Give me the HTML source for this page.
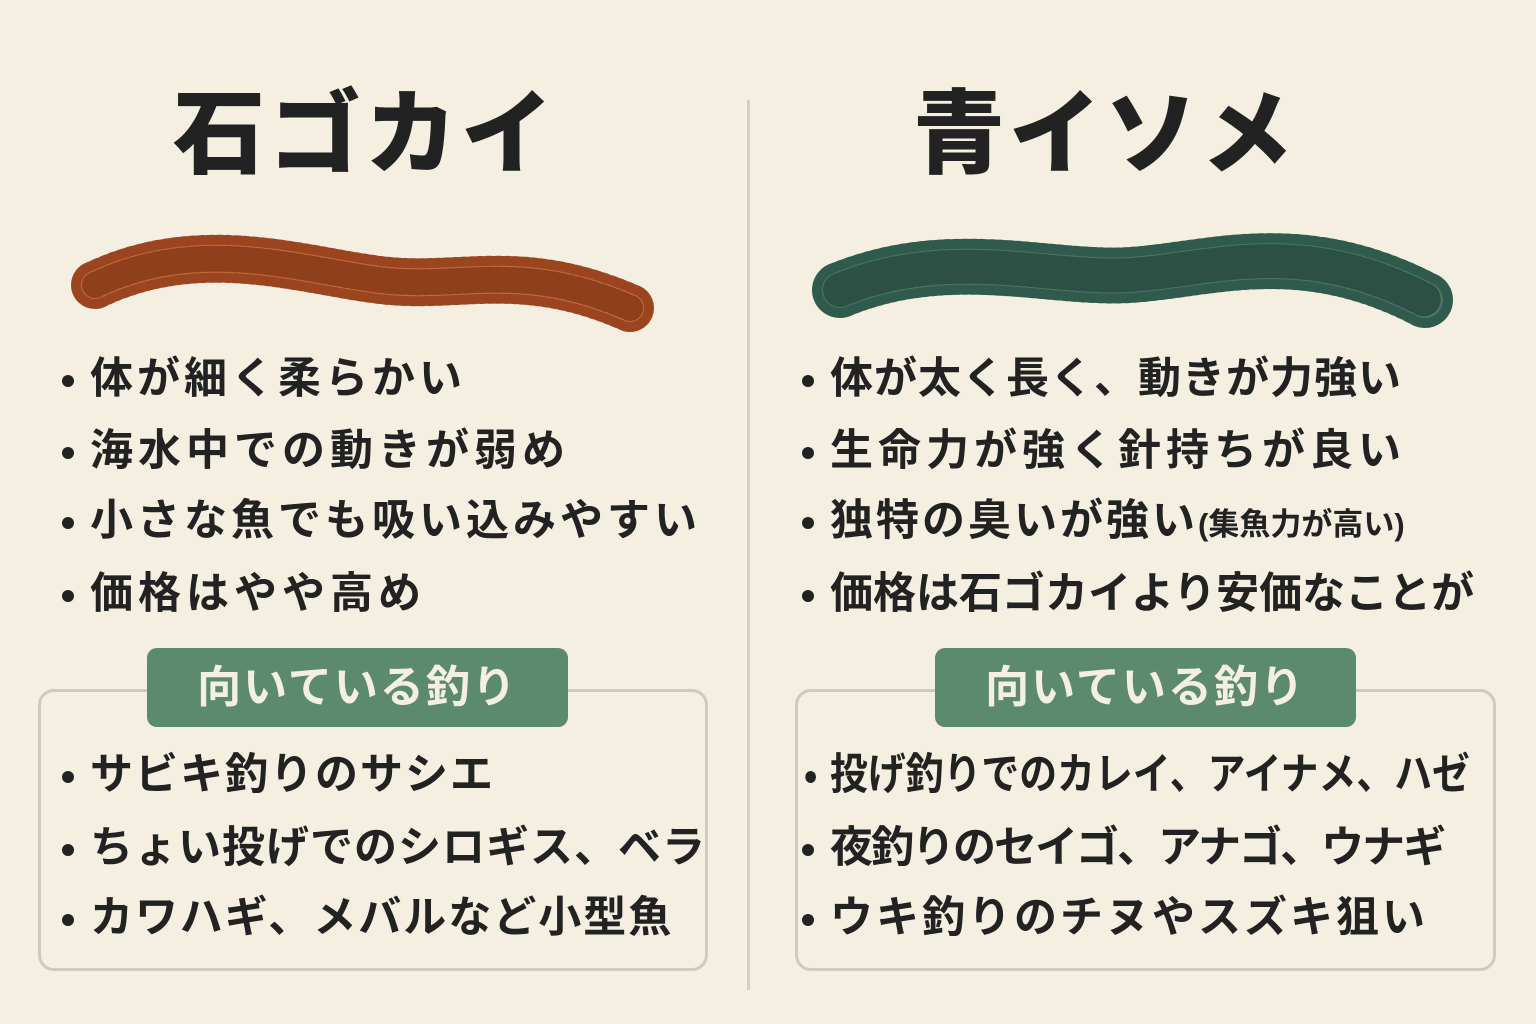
<!DOCTYPE html>
<html><head><meta charset="utf-8"><style>
*{margin:0;padding:0;box-sizing:border-box}
body{width:1536px;height:1024px;background:#f4efe0;position:relative;overflow:hidden;font-family:"Liberation Sans","Noto Sans CJK JP",sans-serif;color:#222}
.t{position:absolute;font-weight:900;font-size:92px;letter-spacing:4px;white-space:nowrap;transform:translateX(-50%)}
.b{position:absolute;font-size:43px;font-weight:700;white-space:nowrap;line-height:1;letter-spacing:1px;transform-origin:0 50%}
.b:before{content:"";position:absolute;left:-28px;top:17px;width:12px;height:12px;border-radius:50%;background:#222}
.box{position:absolute;border:3px solid #cfcac0;border-radius:16px}
.pill{position:absolute;background:#5b8a6e;color:#f4efe0;border-radius:10px;font-size:44px;font-weight:700;text-align:center;line-height:79px;letter-spacing:2px}
.sm{font-size:31px;letter-spacing:0}
</style></head><body>
<div style="position:absolute;left:747px;top:100px;width:3px;height:890px;background:#d4cfc3"></div>
<div class="t" style="left:365px;top:60px">石ゴカイ</div>
<div class="t" style="left:1105px;top:60px">青イソメ</div>
<svg width="1536" height="1024" style="position:absolute;left:0;top:0">
<g fill="none" stroke-linecap="round">
<path d="M95 285 C200 235,300 270,380 280 S520 260,630 308" stroke="#9a4520" stroke-width="48" stroke-dasharray="1.5 7"/>
<path d="M95 285 C200 235,300 270,380 280 S520 260,630 308" stroke="#c06a3e" stroke-width="28"/>
<path d="M95 285 C200 235,300 270,380 280 S520 260,630 308" stroke="#8f3f1c" stroke-width="26" stroke-dasharray="2 6"/>
<path d="M840 290 C950 245,1050 280,1130 275 S1300 235,1425 300" stroke="#2f5a4c" stroke-width="56" stroke-dasharray="1.5 7"/>
<path d="M840 290 C950 245,1050 280,1130 275 S1300 235,1425 300" stroke="#4a7566" stroke-width="36"/>
<path d="M840 290 C950 245,1050 280,1130 275 S1300 235,1425 300" stroke="#2c5044" stroke-width="34" stroke-dasharray="2 6"/>
</g></svg>
<div class="b" style="left:90px;top:358px;letter-spacing:4px">体が細く柔らかい</div>
<div class="b" style="left:90px;top:430px;letter-spacing:5px">海水中での動きが弱め</div>
<div class="b" style="left:90px;top:500px;letter-spacing:4px">小さな魚でも吸い込みやすい</div>
<div class="b" style="left:90px;top:573px;letter-spacing:5px">価格はやや高め</div>
<div class="b" style="left:830px;top:358px;letter-spacing:1px">体が太く長く、動きが力強い</div>
<div class="b" style="left:830px;top:430px;letter-spacing:5px">生命力が強く針持ちが良い</div>
<div class="b" style="left:830px;top:500px;letter-spacing:3px">独特の臭いが強い<span class="sm">(集魚力が高い)</span></div>
<div class="b" style="left:830px;top:573px;letter-spacing:0">価格は石ゴカイより安価なことが</div>
<div class="box" style="left:38px;top:689px;width:670px;height:282px"></div>
<div class="box" style="left:795px;top:689px;width:701px;height:282px"></div>
<div class="pill" style="left:147px;top:648px;width:421px;height:79px">向いている釣り</div>
<div class="pill" style="left:935px;top:648px;width:421px;height:79px">向いている釣り</div>
<div class="b" style="left:90px;top:754px;letter-spacing:2px">サビキ釣りのサシエ</div>
<div class="b" style="left:90px;top:827px;letter-spacing:1px">ちょい投げでのシロギス、ベラ</div>
<div class="b" style="left:90px;top:897px;letter-spacing:2px">カワハギ、メバルなど小型魚</div>
<div class="b" style="left:830px;top:754px;letter-spacing:0;transform:scaleX(0.88)">投げ釣りでのカレイ、アイナメ、ハゼ</div>
<div class="b" style="left:830px;top:827px;letter-spacing:-2px">夜釣りのセイゴ、アナゴ、ウナギ</div>
<div class="b" style="left:830px;top:897px;letter-spacing:3px">ウキ釣りのチヌやスズキ狙い</div>
</body></html>
